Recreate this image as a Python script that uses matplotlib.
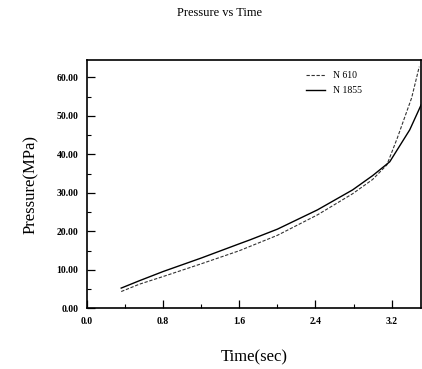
import numpy as np
import matplotlib.pyplot as plt
from matplotlib.ticker import MultipleLocator, FormatStrFormatter

# N 610 (dashed) and N 1855 (solid), pressure in MPa
time_610 = [0.36, 0.55, 0.8, 1.2, 1.6, 1.71, 2.0, 2.42, 2.79, 3.0, 3.15, 3.26, 3.41, 3.49]
pres_610 = [4.4, 6.3, 8.3, 11.6, 15.0, 16.1, 19.0, 24.3, 29.8, 33.5, 37.3, 44.3, 54.7, 62.8]

time_1855 = [0.36, 0.55, 0.8, 1.2, 1.6, 1.71, 2.0, 2.42, 2.79, 3.0, 3.18, 3.39, 3.51]
pres_1855 = [5.3, 7.2, 9.6, 13.1, 16.8, 17.8, 20.6, 25.6, 30.8, 34.5, 38.1, 46.4, 52.9]

plt.rcParams['font.family'] = ['Liberation Serif', 'DejaVu Serif']

fig = plt.figure(figsize=(4.22, 3.69), dpi=100)
ax = fig.add_axes([0.206, 0.164, 0.792, 0.673])

ax.plot(time_610, pres_610, color='#333333', lw=0.8, ls=(0, (3, 1.5)), label='N 610')
ax.plot(time_1855, pres_1855, color='black', lw=1.0, label='N 1855')

ax.set_xlim(0, 3.51)
ax.set_ylim(0, 64.5)
ax.xaxis.set_major_locator(MultipleLocator(0.8))
ax.xaxis.set_minor_locator(MultipleLocator(0.4))
ax.yaxis.set_major_locator(MultipleLocator(10))
ax.yaxis.set_minor_locator(MultipleLocator(5))
ax.xaxis.set_major_formatter(FormatStrFormatter('%.1f'))
ax.yaxis.set_major_formatter(FormatStrFormatter('%.2f'))
ax.tick_params(which='major', direction='in', length=6, width=0.9, labelsize=7, pad=6)
ax.tick_params(which='minor', direction='in', length=3, width=0.8)
ax.tick_params(axis='y', which='both', right=False)
ax.tick_params(axis='x', which='both', top=False)
for lbl in ax.get_xticklabels() + ax.get_yticklabels():
    lbl.set_fontweight('bold')
for s in ax.spines.values():
    s.set_linewidth(1.2)

fig.text(0.52, 0.965, 'Pressure vs Time', ha='center', va='center', fontsize=9)
ax.set_xlabel('Time(sec)', fontsize=12, labelpad=17)
ax.set_ylabel('Pressure(MPa)', fontsize=12, labelpad=13)

ax.legend(loc='upper right', frameon=False, fontsize=7, handlelength=2.0,
          bbox_to_anchor=(0.85, 0.99), labelspacing=0.6)

fig.savefig('out.png', dpi=100)
